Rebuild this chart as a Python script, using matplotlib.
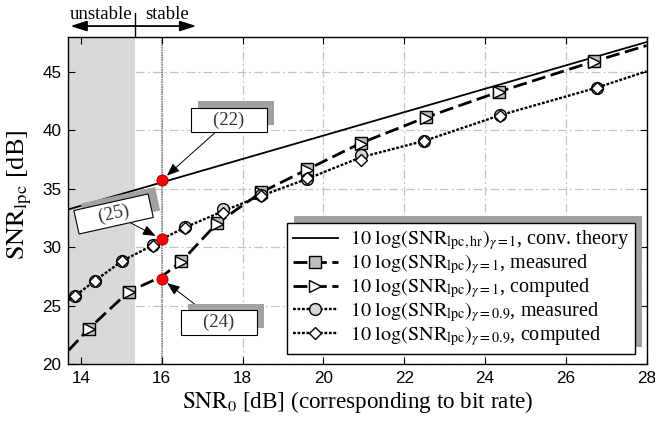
import matplotlib
matplotlib.use('Agg')
import matplotlib.pyplot as plt
from matplotlib.lines import Line2D
import matplotlib.patheffects as pe

plt.rcParams['font.family'] = ['Liberation Serif', 'DejaVu Serif']
plt.rcParams['mathtext.fontset'] = 'stix'

# ---------------- data ----------------
theory_x = [13.7, 28.0]
theory_y = [33.25, 47.55]

g1_x = [14.2, 15.18, 16.49, 17.37, 18.46, 19.6, 20.92, 22.53, 24.35, 26.7]
g1_measured = [23.05, 26.2, 28.8, 32.05, 34.7, 36.7, 38.9, 41.1, 43.3, 45.9]
g1_computed = [23.0, 26.15, 28.75, 32.0, 34.65, 36.6, 38.85, 41.05, 43.25, 45.85]
g1_curve_x = [13.7, 14.2, 15.18, 16.0, 16.49, 17.37, 18.46, 19.6, 20.92, 22.53, 24.35, 26.7, 28.0]
g1_curve_y = [21.2, 23.05, 26.2, 27.5, 28.8, 32.05, 34.7, 36.65, 38.9, 41.1, 43.3, 45.9, 47.25]

g09_x = [13.86, 14.35, 15.03, 15.79, 16.58, 17.52, 18.46, 19.6, 20.93, 22.5, 24.38, 26.77]
g09_measured = [25.85, 27.15, 28.85, 30.2, 31.75, 33.3, 34.45, 35.8, 37.85, 39.1, 41.3, 43.65]
g09_computed = [25.8, 27.1, 28.8, 30.1, 31.65, 32.95, 34.35, 35.9, 37.5, 39.1, 41.25, 43.65]
g09_curve_x = [13.7, 13.86, 14.35, 15.03, 15.79, 16.0, 16.58, 17.52, 18.46, 19.6, 20.93, 22.5, 24.38, 26.77, 28.0]
g09_curve_y = [25.5, 25.85, 27.15, 28.85, 30.2, 30.7, 31.7, 33.1, 34.4, 35.85, 37.7, 39.1, 41.3, 43.65, 45.05]

red_x = [16.0, 16.0, 16.0]
red_y = [35.73, 30.7, 27.3]

ann_labels = ['(22)', '(25)', '(24)']
ann_text_x = [17.66, 14.81, 17.41]
ann_text_y = [40.85, 32.85, 23.57]
ann_rot = [0, 12.6, 0]

stable_limit = 15.35
operating_point = 16.0

xticks = [14, 16, 18, 20, 22, 24, 26, 28]
yticks = [20, 25, 30, 35, 40, 45]

legend_labels = [
    r'$10\ \log(\mathrm{SNR}_{\mathrm{lpc,hr}})_{\gamma=1}$, conv. theory',
    r'$10\ \log(\mathrm{SNR}_{\mathrm{lpc}})_{\gamma=1}$, measured',
    r'$10\ \log(\mathrm{SNR}_{\mathrm{lpc}})_{\gamma=1}$, computed',
    r'$10\ \log(\mathrm{SNR}_{\mathrm{lpc}})_{\gamma=0.9}$, measured',
    r'$10\ \log(\mathrm{SNR}_{\mathrm{lpc}})_{\gamma=0.9}$, computed',
]

# ---------------- figure ----------------
fig = plt.figure(figsize=(6.55, 4.21), dpi=100)
ax = fig.add_axes([0.1043, 0.1347, 0.883, 0.778])
ax.set_xlim(13.69, 28)
ax.set_ylim(20, 48)
ax.set_xticks(xticks)
ax.set_yticks(yticks)

grid_kw = dict(color='#c4c4c4', lw=0.9, dashes=(7, 2.5, 1.5, 2.5), zorder=0.5)
for xv in xticks:
    ax.axvline(xv, **grid_kw)
for yv in yticks:
    ax.axhline(yv, **grid_kw)

ax.axvspan(13.69, stable_limit, color='#d9d9d9', lw=0, zorder=1)
ax.axvline(operating_point, color='#7a7a7a', lw=1.1, ls=(0, (1, 0.6)), zorder=1.2)

dash1 = (0, (5, 2))
dot9 = (0, (1.2, 0.7))

ax.plot(theory_x, theory_y, color='k', lw=1.3, zorder=2)
ax.plot(g1_curve_x, g1_curve_y, color='k', lw=2.0, ls=dash1, zorder=2)
ax.plot(g09_curve_x, g09_curve_y, color='k', lw=1.7, ls=dot9, zorder=2)

mk = dict(ls='none', ms=8.5, mew=1.0, mec='k', zorder=3)
ax.plot(g1_x, g1_measured, marker='s', mfc='#bdbdbd', **mk)
ax.plot(g1_x, g1_computed, marker='>', mfc='white', **mk)
ax.plot(g09_x, g09_measured, marker='o', mfc='#d6d6d6', **mk)
ax.plot(g09_x, g09_computed, marker='D', mfc='white', ms=6.5, mew=1.0, mec='k', ls='none', zorder=3)

ax.plot(red_x, red_y, ls='none', marker='o', ms=8, mfc='#ff0000', mec='#990000', mew=0.6, zorder=6)

shadow = [pe.SimplePatchShadow(offset=(5, 5), shadow_rgbFace=(0.63, 0.63, 0.63), alpha=1.0), pe.Normal()]

for lab, tx, ty, rot, px, py in zip(ann_labels, ann_text_x, ann_text_y, ann_rot, red_x, red_y):
    a = ax.annotate('    ' + lab + '    ', xy=(px, py), xytext=(tx, ty),
                    ha='center', va='center', rotation=rot, fontsize=13.5, color='#333333',
                    bbox=dict(boxstyle='square,pad=0.18', fc='white', ec='k', lw=0.8),
                    arrowprops=dict(arrowstyle='-|>,head_length=0.55,head_width=0.22', color='k',
                                    lw=0.7, mutation_scale=14, shrinkA=0, shrinkB=5),
                    zorder=5)
    a.get_bbox_patch().set_path_effects(shadow)

ax.tick_params(direction='in', top=True, right=True, length=5, width=0.8,
               labelsize=12.3, labelfontfamily='Liberation Sans', pad=5)
for s in ax.spines.values():
    s.set_linewidth(1.0)

ax.set_xlabel(r'$\mathrm{SNR}_0$ [dB] (corresponding to bit rate)', fontsize=16.7, labelpad=2)
ax.set_ylabel(r'$\mathrm{SNR}_{\mathrm{lpc}}$ [dB]', fontsize=19)
ax.yaxis.set_label_coords(-0.06, 0.517)

# stable / unstable marks above axes
tr = ax.get_xaxis_transform()
ax.annotate('', xy=(13.74, 1.0327), xytext=(16.86, 1.0327), xycoords=tr, textcoords=tr,
            arrowprops=dict(arrowstyle='<|-|>,head_length=0.7,head_width=0.22', color='k',
                            lw=1.3, mutation_scale=14, shrinkA=0, shrinkB=0), annotation_clip=False)
ax.plot([stable_limit, stable_limit], [1.0, 1.073], transform=tr, color='k', lw=1.0, clip_on=False)
ax.text(14.51, 1.055, 'unstable', transform=tr, ha='center', va='baseline', fontsize=13.5)
ax.text(16.14, 1.055, 'stable', transform=tr, ha='center', va='baseline', fontsize=13.5)

handles = [
    Line2D([], [], color='k', lw=1.3),
    Line2D([], [], color='k', lw=2.0, ls=dash1, marker='s', mfc='#bdbdbd', mec='k', ms=8.5),
    Line2D([], [], color='k', lw=2.0, ls=dash1, marker='>', mfc='white', mec='k', ms=8.5),
    Line2D([], [], color='k', lw=1.7, ls=dot9, marker='o', mfc='#d6d6d6', mec='k', ms=8.5),
    Line2D([], [], color='k', lw=1.7, ls=dot9, marker='D', mfc='white', mec='k', ms=6.5),
]
leg = ax.legend(handles, legend_labels, loc='lower right', bbox_to_anchor=(0.98, 0.031),
                borderaxespad=0, fontsize=14.5, fancybox=False, framealpha=1, edgecolor='k',
                handlelength=2.2, handletextpad=0.6, labelspacing=0.0, borderpad=0.3,
                numpoints=1)
leg.get_frame().set_linewidth(1.0)
leg.get_frame().set_path_effects(shadow)
leg.set_zorder(7)

fig.savefig('out.png', dpi=100)
